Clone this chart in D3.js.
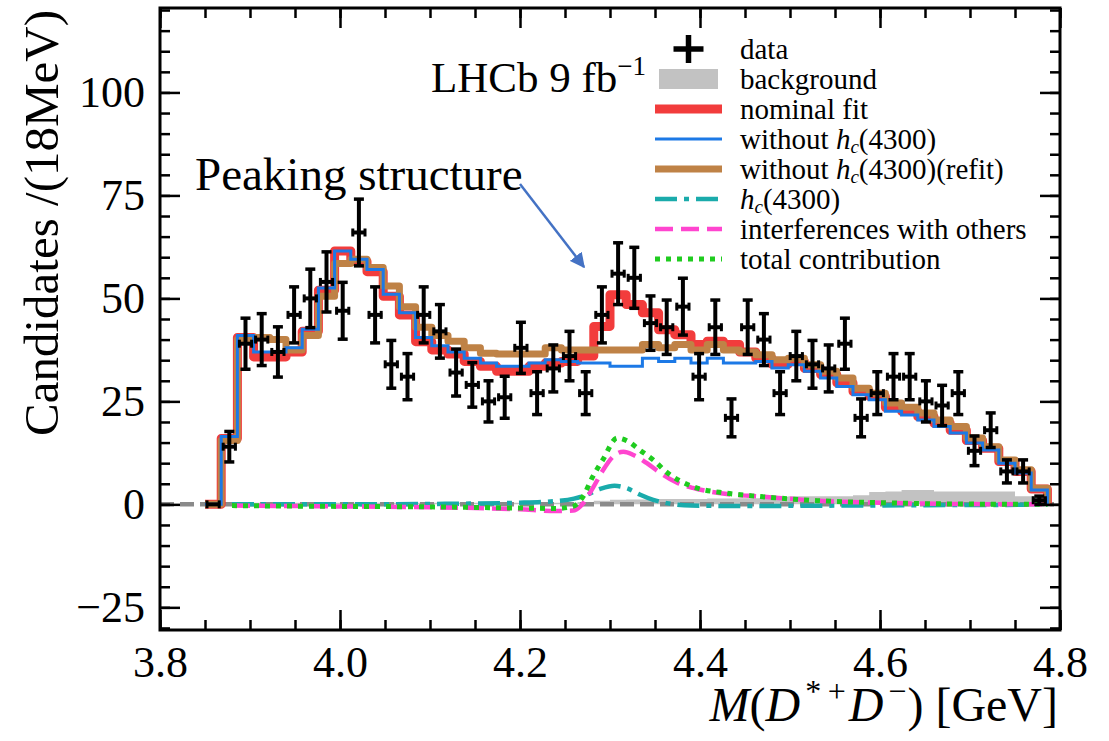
<!DOCTYPE html>
<html>
<head>
<meta charset="utf-8">
<script src="https://cdn.jsdelivr.net/npm/d3@7"></script>
<style>
  body { margin: 0; background: #ffffff; }
  svg { display: block; }
  text { font-family: "Liberation Serif", "Times New Roman", serif; fill: #000; }
</style>
</head>
<body>
<svg id="chart" width="1109" height="741"></svg>
<script>
// Binning of the D*+ D- mass spectrum (18 MeV bins)
const binLow = 3.850;
const binWidth = 0.018;

// Candidates per bin
const dataCounts = [0, 14, 39, 40, 37, 46, 50, 54, 47, 66, 46, 34, 31, 46, 42, 32, 29, 25, 26, 38,
  27, 33, 36, 27, 46, 56, 55, 44, 43, 48, 31, 43, 21, 43, 40, 27, 36, 34, 33, 39,
  21, 27, 31, 31, 25, 24, 27, 13, 18, 8, 8, 1];
const dataErrors = [0, 3.7, 6.2, 6.3, 6.1, 6.8, 7.1, 7.3, 6.9, 8.1, 6.8, 5.8, 5.6, 6.8, 6.5, 5.7, 5.4, 5.0, 5.1, 6.2,
  5.2, 5.7, 6.0, 5.2, 6.8, 7.5, 7.4, 6.6, 6.6, 6.9, 5.6, 6.6, 4.6, 6.6, 6.3, 5.2, 6.0, 5.8, 5.7, 6.2,
  4.6, 5.2, 5.6, 5.6, 5.0, 4.9, 5.2, 3.6, 4.2, 2.8, 2.8, 1.0];

// Fit projections per bin
const nominalFit = [0, 16, 40.5, 35.8, 35.8, 37, 42, 52, 61.5, 59, 56.5, 50.5, 46, 39.5, 37.5, 36.5, 34.7, 33.5, 32.3, 32.3,
  33.5, 34.3, 34.7, 36, 43.2, 50.9, 48.5, 46.5, 42.4, 41.2, 38.8, 39.6, 38.8, 37, 35.5, 34, 34.7, 33, 31.5, 29.5,
  27.4, 26.2, 23.5, 22.6, 21.3, 19.7, 18, 15.5, 13.6, 10.4, 8, 3.7];
const withoutHc = [0, 16.5, 41, 37, 37, 38, 42.5, 52.5, 61.5, 59.5, 57, 51, 46.5, 40.5, 38.5, 37, 35.5, 34.3, 33.5, 33.5,
  34.3, 35.1, 34.7, 34.3, 34.3, 33.5, 33.5, 35.5, 34.7, 35.5, 34.3, 35.5, 34.3, 34.3, 34.7, 33.1, 33.9, 32.3, 30.7, 28.6,
  26.6, 25.4, 22.6, 21.7, 20.5, 18.9, 17.3, 14.9, 13.2, 10, 7.6, 3.5];
const refitWithoutHc = [0, 15.5, 40, 40.5, 40, 37.5, 41, 50.5, 58.5, 59.5, 57.5, 53, 48, 43, 41, 39.6, 38, 36.7, 36.5, 36.5,
  36.5, 38, 37.5, 37.5, 37.5, 37.5, 37.5, 38.8, 38, 38.8, 37.5, 38.8, 37.5, 37, 36.3, 35.1, 35.5, 33.9, 32.3, 30.7,
  28.2, 27, 24.6, 23.6, 22.2, 20.5, 18.9, 16.1, 14, 10.8, 8.4, 3.9];
const background = [0.4, 0.4, 0.4, 0.4, 0.4, 0.4, 0.4, 0.4, 0.4, 0.4, 0.4, 0.4, 0.4, 0.4, 0.4, 0.4, 0.4, 0.4, 0.4, 0.4,
  0.4, 0.4, 0.4, 0.6, 0.9, 1.1, 1.2, 1.2, 1.3, 1.3, 1.3, 1.4, 1.4, 1.5, 1.5, 1.8, 2.0, 2.0, 2.0, 2.0,
  2.2, 3.0, 3.1, 3.5, 3.5, 3.1, 3.1, 3.1, 3.1, 3.1, 2.0, 2.0];

// Signal-like components, [mass in GeV, candidates]
const hcComponent = [[3.88, 0.0], [4.0, 0.0], [4.1, 0.1], [4.2, 0.4], [4.24, 0.8], [4.26, 1.4], [4.275, 2.4],
  [4.29, 3.8], [4.305, 4.5], [4.32, 3.8], [4.333, 2.4], [4.348, 1.1], [4.363, 0.3], [4.39, -0.3], [4.45, -0.4],
  [4.55, -0.3], [4.65, -0.2], [4.786, -0.1]];
const interference = [[3.88, -0.3], [4.0, -0.5], [4.1, -0.7], [4.2, -1.2], [4.24, -1.6], [4.259, -1.5], [4.27, 0.2],
  [4.281, 4.0], [4.292, 8.2], [4.303, 11.5], [4.315, 12.8], [4.326, 12.0], [4.341, 10.0], [4.356, 7.6], [4.374, 5.3],
  [4.392, 4.0], [4.411, 3.1], [4.43, 2.5], [4.467, 1.9], [4.53, 0.9], [4.60, 0.4], [4.68, 0.1], [4.786, 0.0]];
const totalContribution = [[3.88, -0.3], [4.0, -0.5], [4.1, -0.6], [4.2, -0.9], [4.24, -1.0], [4.259, -0.5], [4.27, 1.9],
  [4.281, 6.8], [4.292, 10.8], [4.308, 16.1], [4.32, 15.3], [4.333, 13.2], [4.348, 10.8], [4.363, 7.8], [4.392, 4.3],
  [4.43, 2.7], [4.467, 1.9], [4.53, 0.9], [4.60, 0.4], [4.68, 0.1], [4.786, 0.0]];

// Axis ticks
const xTicks = [3.8, 4.0, 4.2, 4.4, 4.6, 4.8];
const xMinorTicks = d3.range(3.8, 4.8001, 0.05);
const yTicks = [-25, 0, 25, 50, 75, 100];
const yMinorTicks = d3.range(-30, 121, 5);

const colors = {
  nominal: "#f23c3c",
  without: "#1c79e6",
  refit: "#bf8246",
  hc: "#1aabab",
  interf: "#ff45cf",
  total: "#1fcc1f",
  background: "#c2c2c2",
  zero: "#8a8a8a",
  arrow: "#4472c4"
};

const svg = d3.select("#chart");
const margin = { left: 160, right: 1060, top: 8, bottom: 630 };
const x = d3.scaleLinear().domain([3.8, 4.8]).range([margin.left, margin.right]);
const y = d3.scaleLinear().domain([-30.5, 120.5]).range([margin.bottom, margin.top]);

svg.append("rect").attr("width", 1109).attr("height", 741).attr("fill", "#fff");

svg.append("clipPath").attr("id", "plotClip")
  .append("rect").attr("x", margin.left).attr("y", margin.top)
  .attr("width", margin.right - margin.left).attr("height", margin.bottom - margin.top);

const plot = svg.append("g").attr("clip-path", "url(#plotClip)");

const edges = d3.range(dataCounts.length + 1).map(k => binLow + k * binWidth);
const stepPoints = vals => vals.map((v, k) => [edges[k], v]).concat([[edges[vals.length], 0]]);

// Background (filled histogram)
const bgArea = d3.area()
  .curve(d3.curveStepAfter)
  .x(d => x(d[0])).y0(y(0)).y1(d => y(d[1]));
plot.append("path")
  .datum(background.map((v, k) => [edges[k], v]).concat([[edges[background.length], background[background.length - 1]]]))
  .attr("d", bgArea)
  .attr("fill", colors.background);

// Zero line
plot.append("line")
  .attr("x1", x(3.8)).attr("x2", x(4.8)).attr("y1", y(0)).attr("y2", y(0))
  .attr("stroke", colors.zero).attr("stroke-width", 4.5).attr("stroke-dasharray", "14,6");

// Components
const smooth = d3.line().curve(d3.curveMonotoneX).x(d => x(d[0])).y(d => y(d[1]));
plot.append("path").datum(hcComponent).attr("d", smooth)
  .attr("fill", "none").attr("stroke", colors.hc).attr("stroke-width", 4.5)
  .attr("stroke-dasharray", "22,7,5,7");
plot.append("path").datum(interference).attr("d", smooth)
  .attr("fill", "none").attr("stroke", colors.interf).attr("stroke-width", 4.5)
  .attr("stroke-dasharray", "18,8");
plot.append("path").datum(totalContribution).attr("d", smooth)
  .attr("fill", "none").attr("stroke", colors.total).attr("stroke-width", 5)
  .attr("stroke-dasharray", "5,6");

// Fit projections
const step = d3.line().curve(d3.curveStepAfter).x(d => x(d[0])).y(d => y(d[1]));
plot.append("path").datum(stepPoints(nominalFit)).attr("d", step)
  .attr("fill", "none").attr("stroke", colors.nominal).attr("stroke-width", 9).attr("stroke-linejoin", "round");
plot.append("path").datum(stepPoints(refitWithoutHc)).attr("d", step)
  .attr("fill", "none").attr("stroke", colors.refit).attr("stroke-width", 7).attr("stroke-linejoin", "round");
plot.append("path").datum(stepPoints(withoutHc)).attr("d", step)
  .attr("fill", "none").attr("stroke", colors.without).attr("stroke-width", 3);

// Data points with error bars
const pts = plot.append("g").attr("stroke", "#000");
dataCounts.forEach((v, k) => {
  const e = dataErrors[k];
  const xl = x(edges[k]), xr = x(edges[k + 1]), xc = x(edges[k] + binWidth / 2);
  const g = pts.append("g");
  g.append("line").attr("x1", xl + 1).attr("x2", xr - 1).attr("y1", y(v)).attr("y2", y(v)).attr("stroke-width", 4);
  g.append("line").attr("x1", xl + 2).attr("x2", xl + 2).attr("y1", y(v) - 4).attr("y2", y(v) + 4).attr("stroke-width", 3);
  g.append("line").attr("x1", xr - 2).attr("x2", xr - 2).attr("y1", y(v) - 4).attr("y2", y(v) + 4).attr("stroke-width", 3);
  if (e > 0) {
    g.append("line").attr("x1", xc).attr("x2", xc).attr("y1", y(v - e)).attr("y2", y(v + e)).attr("stroke-width", 4);
    g.append("line").attr("x1", xc - 5).attr("x2", xc + 5).attr("y1", y(v - e)).attr("y2", y(v - e)).attr("stroke-width", 3.5);
    g.append("line").attr("x1", xc - 5).attr("x2", xc + 5).attr("y1", y(v + e)).attr("y2", y(v + e)).attr("stroke-width", 3.5);
  }
});

// Axes with inward ticks on all four sides
function styleAxis(g) {
  g.select(".domain").remove();
  g.selectAll(".tick line").attr("stroke", "#000").attr("stroke-width", 2.5);
  g.selectAll(".tick text").attr("font-size", 44).attr("font-family", "Liberation Serif, serif").attr("fill", "#000");
}
const fmtX = d3.format(".1f");
svg.append("g").attr("transform", `translate(0,${margin.bottom})`)
  .call(d3.axisBottom(x).tickValues(xTicks).tickSize(-20).tickPadding(16).tickFormat(fmtX)).call(styleAxis);
svg.append("g").attr("transform", `translate(0,${margin.bottom})`)
  .call(d3.axisBottom(x).tickValues(xMinorTicks).tickSize(-10).tickFormat("")).call(styleAxis);
svg.append("g").attr("transform", `translate(0,${margin.top})`)
  .call(d3.axisTop(x).tickValues(xTicks).tickSize(-20).tickFormat("")).call(styleAxis);
svg.append("g").attr("transform", `translate(0,${margin.top})`)
  .call(d3.axisTop(x).tickValues(xMinorTicks).tickSize(-10).tickFormat("")).call(styleAxis);
svg.append("g").attr("transform", `translate(${margin.left},0)`)
  .call(d3.axisLeft(y).tickValues(yTicks).tickSize(-20).tickPadding(15)).call(styleAxis);
svg.append("g").attr("transform", `translate(${margin.left},0)`)
  .call(d3.axisLeft(y).tickValues(yMinorTicks).tickSize(-10).tickFormat("")).call(styleAxis);
svg.append("g").attr("transform", `translate(${margin.right},0)`)
  .call(d3.axisRight(y).tickValues(yTicks).tickSize(-20).tickFormat("")).call(styleAxis);
svg.append("g").attr("transform", `translate(${margin.right},0)`)
  .call(d3.axisRight(y).tickValues(yMinorTicks).tickSize(-10).tickFormat("")).call(styleAxis);

svg.append("rect")
  .attr("x", margin.left).attr("y", margin.top)
  .attr("width", margin.right - margin.left).attr("height", margin.bottom - margin.top)
  .attr("fill", "none").attr("stroke", "#000").attr("stroke-width", 3);

// Axis titles
const xTitle = svg.append("text").attr("x", 1058).attr("y", 721).attr("text-anchor", "end").attr("font-size", 48);
xTitle.append("tspan").attr("font-style", "italic").text("M");
xTitle.append("tspan").text("(");
xTitle.append("tspan").attr("font-style", "italic").text("D");
xTitle.append("tspan").attr("font-size", 32).attr("dx", 5).attr("dy", -19).text("*\u2009+");
xTitle.append("tspan").attr("font-style", "italic").attr("dx", 3).attr("dy", 19).text("D");
xTitle.append("tspan").attr("font-size", 32).attr("dx", 5).attr("dy", -19).text("\u2212");
xTitle.append("tspan").attr("dx", 1).attr("dy", 19).text(") [GeV]");

svg.append("text")
  .attr("transform", "translate(58,10) rotate(-90)")
  .attr("text-anchor", "end").attr("font-size", 49)
  .text("Candidates /(18MeV)");

// Annotations
const lhcb = svg.append("text").attr("x", 431).attr("y", 92).attr("font-size", 43);
lhcb.append("tspan").text("LHCb 9 fb");
lhcb.append("tspan").attr("font-size", 27).attr("dy", -17).text("\u22121");

svg.append("text").attr("x", 195).attr("y", 190).attr("font-size", 47).text("Peaking structure");

svg.append("defs").append("marker")
  .attr("id", "arrowHead").attr("viewBox", "0 0 10 10").attr("refX", 9).attr("refY", 5)
  .attr("markerWidth", 6).attr("markerHeight", 6).attr("markerUnits", "strokeWidth").attr("orient", "auto")
  .append("path").attr("d", "M0,0 L10,5 L0,10 Z").attr("fill", colors.arrow);
svg.append("line")
  .attr("x1", 520).attr("y1", 184).attr("x2", 584).attr("y2", 267)
  .attr("stroke", colors.arrow).attr("stroke-width", 2.5).attr("marker-end", "url(#arrowHead)");

// Legend
const legend = svg.append("g");
const rowY = [49, 79, 109, 139, 169, 199, 229, 259];
const hx0 = 655, hx1 = 722, tx = 740;
const labels = [
  [{ t: "data" }],
  [{ t: "background" }],
  [{ t: "nominal fit" }],
  [{ t: "without " }, { t: "h", i: true }, { t: "c", i: true, sub: true }, { t: "(4300)" }],
  [{ t: "without " }, { t: "h", i: true }, { t: "c", i: true, sub: true }, { t: "(4300)(refit)" }],
  [{ t: "h", i: true }, { t: "c", i: true, sub: true }, { t: "(4300)" }],
  [{ t: "interferences with others" }],
  [{ t: "total contribution" }]
];
labels.forEach((parts, i) => {
  const txt = legend.append("text").attr("x", tx).attr("y", rowY[i] + 10).attr("font-size", 29);
  let shifted = false;
  parts.forEach(p => {
    const ts = txt.append("tspan").text(p.t);
    if (p.i) ts.attr("font-style", "italic");
    if (p.sub) { ts.attr("font-size", 19).attr("dy", 4); shifted = true; }
    else if (shifted) { ts.attr("dy", -4); shifted = false; }
  });
});
const hm = (hx0 + hx1) / 2;
legend.append("line").attr("x1", hm - 15).attr("x2", hm + 15).attr("y1", rowY[0]).attr("y2", rowY[0])
  .attr("stroke", "#000").attr("stroke-width", 5.5);
legend.append("line").attr("x1", hm).attr("x2", hm).attr("y1", rowY[0] - 14).attr("y2", rowY[0] + 14)
  .attr("stroke", "#000").attr("stroke-width", 5.5);
legend.append("rect").attr("x", hx0 + 4).attr("y", rowY[1] - 10).attr("width", hx1 - hx0 - 8).attr("height", 20)
  .attr("fill", colors.background);
const legendLines = [
  [2, colors.nominal, 9, null],
  [3, colors.without, 3, null],
  [4, colors.refit, 7, null],
  [5, colors.hc, 4.5, "22,7,5,7"],
  [6, colors.interf, 4.5, "18,8"],
  [7, colors.total, 5, "5,6"]
];
legendLines.forEach(([i, c, w, dash]) => {
  const l = legend.append("line").attr("x1", hx0).attr("x2", hx1).attr("y1", rowY[i]).attr("y2", rowY[i])
    .attr("stroke", c).attr("stroke-width", w);
  if (dash) l.attr("stroke-dasharray", dash);
});
</script>
</body>
</html>
